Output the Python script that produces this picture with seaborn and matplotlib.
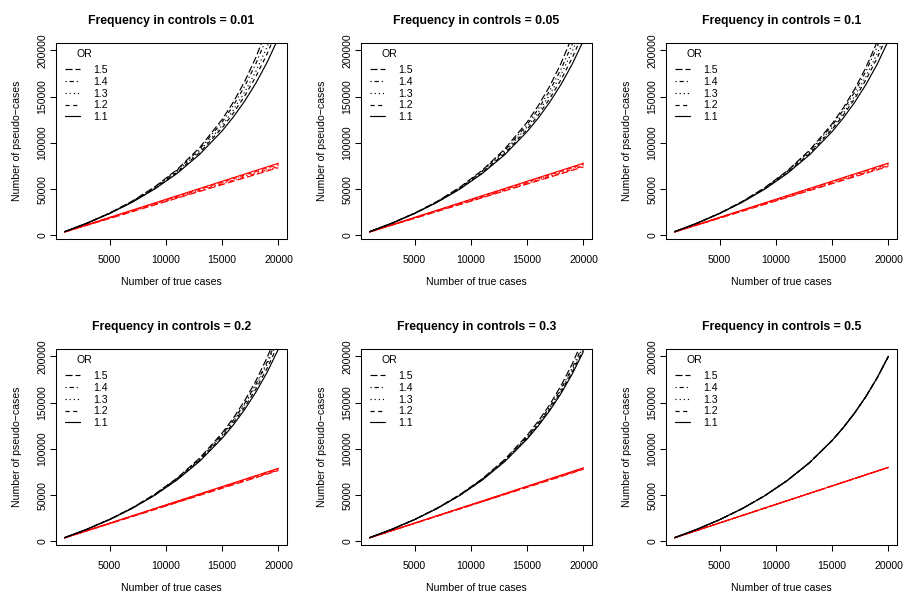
import matplotlib
matplotlib.use("Agg")
import matplotlib.pyplot as plt
import seaborn as sns
import pandas as pd
from matplotlib.lines import Line2D

sns.set_style("ticks")
plt.rcParams["font.family"] = ["Liberation Sans", "DejaVu Sans"]
plt.rcParams["text.color"] = "black"
plt.rcParams["axes.labelcolor"] = "black"

true_cases = [1000, 3000, 5000, 7000, 9000, 11000, 13000, 15000, 16000, 17000, 18000, 19000, 20000]
or_levels = ["1.1", "1.2", "1.3", "1.4", "1.5"]
freqs = ["0.01", "0.05", "0.1", "0.2", "0.3", "0.5"]

# black curves, one row per OR (1.1 .. 1.5)
pseudo_001 = [
    [4100, 13200, 23700, 35800, 50100, 67000, 87600, 112900, 128000, 145100, 164600, 187100, 213300],
    [4100, 13300, 23800, 36200, 50700, 68200, 89500, 116200, 132200, 150500, 171600, 196300, 225400],
    [4100, 13300, 24000, 36400, 51200, 69100, 91100, 118800, 135600, 154900, 177300, 203800, 235300],
    [4100, 13400, 24100, 36700, 51900, 70300, 93200, 122400, 140400, 161100, 185600, 214700, 250000],
    [4100, 13400, 24200, 37000, 52400, 71200, 94800, 125300, 144100, 166200, 192300, 223700, 262300],
]
pseudo_005 = [
    [4100, 13200, 23700, 35800, 49900, 66800, 87100, 112200, 127000, 143800, 162900, 184900, 210500],
    [4100, 13300, 23800, 36000, 50400, 67600, 88500, 114600, 130100, 147700, 168000, 191600, 219200],
    [4100, 13300, 23900, 36200, 50900, 68500, 90000, 117100, 133300, 152000, 173500, 198700, 228600],
    [4100, 13300, 24000, 36500, 51400, 69400, 91600, 119700, 136800, 156400, 179300, 206400, 238800],
    [4100, 13400, 24100, 36700, 51900, 70300, 93200, 122400, 140400, 161100, 185600, 214700, 250000],
]
pseudo_01 = [
    [4100, 13200, 23700, 35800, 49900, 66800, 87100, 112200, 127000, 143800, 162900, 184900, 210500],
    [4100, 13300, 23800, 36000, 50400, 67600, 88500, 114600, 130100, 147700, 168000, 191600, 219200],
    [4100, 13300, 23800, 36200, 50700, 68200, 89500, 116200, 132200, 150500, 171600, 196300, 225400],
    [4100, 13300, 24000, 36400, 51200, 69100, 91100, 118800, 135600, 154900, 177300, 203800, 235300],
    [4100, 13300, 24000, 36600, 51500, 69700, 92100, 120600, 137900, 158000, 181400, 209100, 242400],
]
pseudo_02 = [
    [4100, 13200, 23600, 35700, 49800, 66500, 86600, 111400, 126000, 142500, 161300, 182800, 207800],
    [4100, 13200, 23700, 35800, 50100, 67000, 87600, 112900, 128000, 145100, 164600, 187100, 213300],
    [4100, 13300, 23800, 36000, 50400, 67600, 88500, 114600, 130100, 147700, 168000, 191600, 219200],
    [4100, 13300, 23800, 36100, 50600, 67900, 89000, 115400, 131100, 149100, 169800, 193900, 222200],
    [4100, 13300, 23900, 36200, 50900, 68500, 90000, 117100, 133300, 152000, 173500, 198700, 228600],
]
pseudo_03 = [
    [4100, 13200, 23600, 35600, 49600, 66200, 86200, 110600, 125000, 141200, 159600, 180700, 205100],
    [4100, 13200, 23600, 35700, 49800, 66500, 86600, 111400, 126000, 142500, 161300, 182800, 207800],
    [4100, 13200, 23700, 35800, 49900, 66800, 87100, 112200, 127000, 143800, 162900, 184900, 210500],
    [4100, 13200, 23700, 35800, 50100, 67000, 87600, 112900, 128000, 145100, 164600, 187100, 213300],
    [4100, 13300, 23800, 36000, 50400, 67600, 88500, 114600, 130100, 147700, 168000, 191600, 219200],
]
pseudo_05 = [
    [4100, 13200, 23500, 35400, 49300, 65700, 85200, 109100, 123100, 138800, 156500, 176700, 200000],
    [4100, 13200, 23500, 35400, 49300, 65700, 85200, 109100, 123100, 138800, 156500, 176700, 200000],
    [4100, 13200, 23500, 35400, 49300, 65700, 85200, 109100, 123100, 138800, 156500, 176700, 200000],
    [4100, 13200, 23500, 35400, 49300, 65700, 85200, 109100, 123100, 138800, 156500, 176700, 200000],
    [4100, 13200, 23500, 35400, 49300, 65700, 85200, 109100, 123100, 138800, 156500, 176700, 200000],
]

# red straight lines: value at 1000 and at 20000 true cases, one row per OR
red_x = [1000, 20000]
red_001 = [[3900, 78000], [3840, 76800], [3780, 75600], [3720, 74400], [3660, 73200]]
red_005 = [[3900, 78000], [3850, 77000], [3800, 76000], [3750, 75000], [3700, 74000]]
red_01 = [[3910, 78200], [3865, 77300], [3820, 76400], [3775, 75500], [3730, 74600]]
red_02 = [[3950, 79000], [3920, 78400], [3890, 77800], [3860, 77200], [3830, 76600]]
red_03 = [[3975, 79500], [3955, 79100], [3935, 78700], [3915, 78300], [3895, 77900]]
red_05 = [[4000, 80000], [4000, 80000], [4000, 80000], [4000, 80000], [4000, 80000]]

black_sets = [pseudo_001, pseudo_005, pseudo_01, pseudo_02, pseudo_03, pseudo_05]
red_sets = [red_001, red_005, red_01, red_02, red_03, red_05]

# R-like line types: lty 1..5
dash_styles = {"1.1": "", "1.2": (3.5, 3), "1.3": (1, 2.5),
               "1.4": (1, 2.5, 3.5, 2.5), "1.5": (6, 2.5)}
lw = 0.85
fs = 7.6
leg_fs = 7.6

fig = plt.figure(figsize=(9.05, 5.95), dpi=100)
lefts = [56, 361, 666]
tops = [43, 349]
W, H = 231, 196

for i, freq in enumerate(freqs):
    r, c = divmod(i, 3)
    ax = fig.add_axes([lefts[c] / 905, 1 - (tops[r] + H) / 595, W / 905, H / 595])

    rows = []
    for k, orv in enumerate(or_levels):
        for xv, yv in zip(red_x, red_sets[i][k]):
            rows.append({"x": xv, "y": yv, "OR": orv, "kind": "red"})
        for xv, yv in zip(true_cases, black_sets[i][k]):
            rows.append({"x": xv, "y": yv, "OR": orv, "kind": "black"})
    df = pd.DataFrame(rows)

    sns.lineplot(data=df, x="x", y="y", hue="kind", style="OR",
                 palette={"black": "black", "red": "red"}, dashes=dash_styles,
                 estimator=None, legend=False, linewidth=lw, ax=ax)

    ax.set_xlim(240, 20760)
    ax.set_ylim(-3800, 207800)
    xt = [5000, 10000, 15000, 20000]
    yt = [0, 50000, 100000, 150000, 200000]
    ax.set_xticks(xt, labels=[str(v) for v in xt])
    ax.set_yticks(yt, labels=[str(v) for v in yt])
    ax.tick_params(axis="both", direction="out", length=4.3, width=0.75,
                   labelsize=fs, colors="black")
    ax.tick_params(axis="x", pad=7.5)
    ax.tick_params(axis="y", pad=2.0, labelrotation=90)
    for lab in ax.get_yticklabels():
        lab.set_va("center")
    for sp in ax.spines.values():
        sp.set_visible(True)
        sp.set_color("black")
        sp.set_linewidth(0.75)

    ax.set_xlabel("Number of true cases", fontsize=fs, labelpad=8.3)
    ax.set_ylabel("Number of pseudo\u2212cases", fontsize=fs, labelpad=11.0)
    ax.set_title(f"Frequency in controls = {freq}", fontsize=8.8,
                 fontweight="bold", pad=13.7)

    handles = []
    for orv in reversed(or_levels):
        if dash_styles[orv] == "":
            handles.append(Line2D([], [], color="black", lw=lw, linestyle="-"))
        else:
            handles.append(Line2D([], [], color="black", lw=lw,
                                  dashes=dash_styles[orv]))
    ax.legend(handles, list(reversed(or_levels)), frameon=False,
              loc="upper left", bbox_to_anchor=(0.039, 0.888), borderaxespad=0,
              borderpad=0, fontsize=leg_fs, handlelength=1.42,
              handletextpad=1.23, labelspacing=0.17)
    ax.text(0.123, 0.944, "OR", transform=ax.transAxes, ha="center",
            va="center", fontsize=leg_fs)

fig.savefig("out.png", dpi=100)
